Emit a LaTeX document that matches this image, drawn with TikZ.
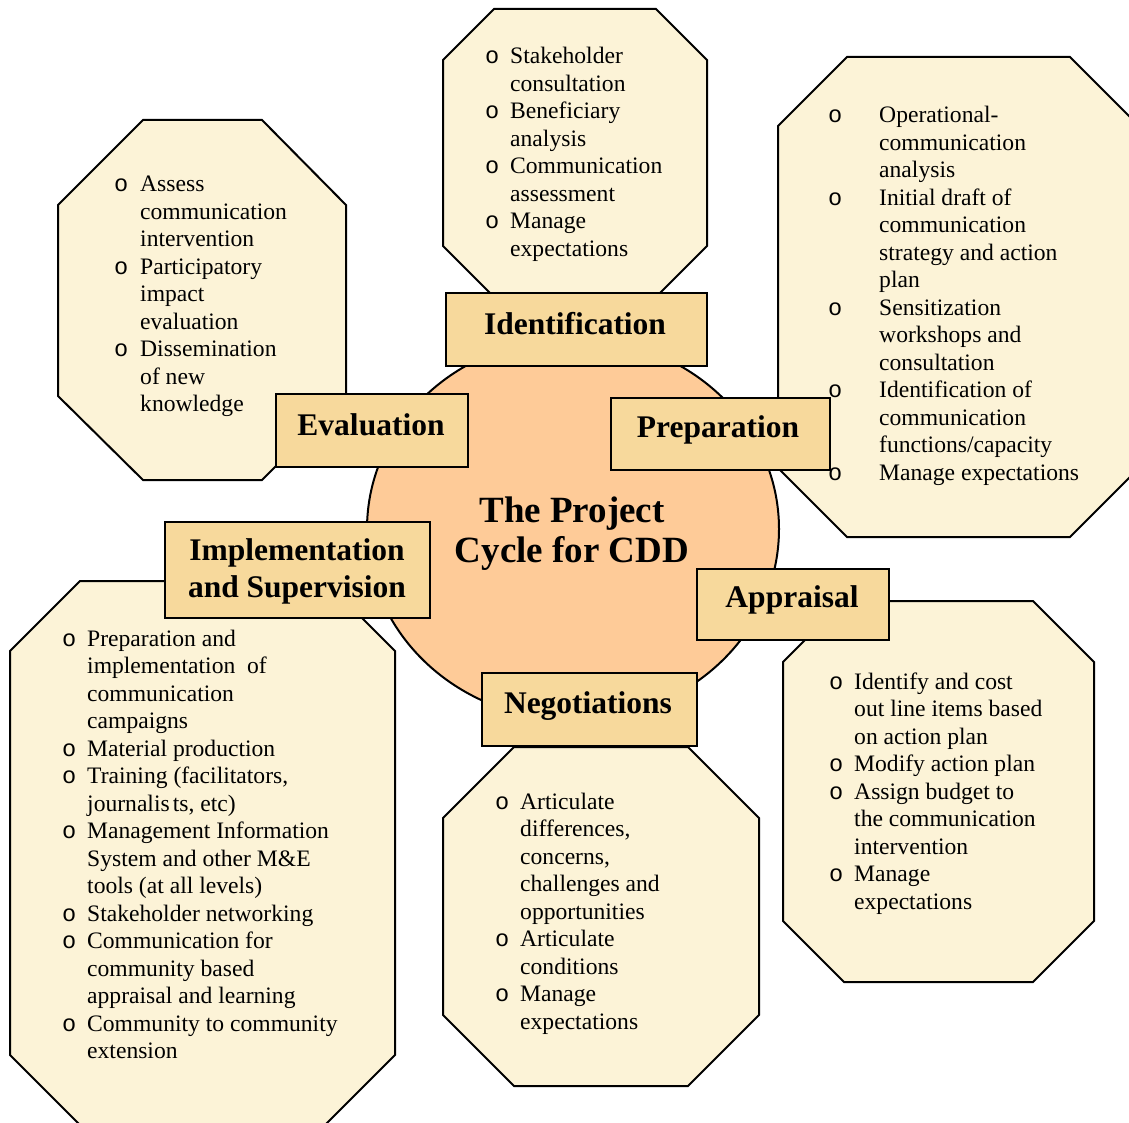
\documentclass[tikz,border=0pt]{standalone}
\usepackage{fontspec}
\setmainfont{Liberation Serif}
\newfontfamily\bulfont{Liberation Mono}
\usepackage{array}
\usetikzlibrary{shapes.geometric}
\definecolor{octfill}{RGB}{252,243,215}
\definecolor{boxfill}{RGB}{247,217,156}
\definecolor{cyclefill}{RGB}{254,203,152}
\newcommand\octlist[2]{\begin{tabular}[t]{@{}>{\bulfont}p{#1}@{}l@{}}#2\end{tabular}}
\begin{document}
\begin{tikzpicture}[x=1pt,y=-1pt,
  oct/.style={draw=black, line width=2pt, fill=octfill, line join=miter},
  stagebox/.style={draw=black, line width=2pt, fill=boxfill, inner sep=0pt, anchor=north west},
  stagelab/.style={inner sep=0pt, anchor=base, font=\fontsize{31.5}{37}\selectfont\bfseries},
  bodytxt/.style={inner sep=0pt, anchor=base west, font=\fontsize{23.6}{27.5}\selectfont}]
\useasboundingbox (0,0) rectangle (1129,1123);
\clip (0,0) rectangle (1129,1123);
% octagons
\draw[oct] (143,120) -- (262,120) -- (346,205) -- (346,396) -- (262,480) -- (143,480) -- (58,396) -- (58,205) -- cycle;
\draw[oct] (494,9) -- (656,9) -- (707,60) -- (707,246) -- (656,297) -- (494,297) -- (443,246) -- (443,60) -- cycle;
\draw[oct] (847,57) -- (1070,57) -- (1139,126) -- (1139,468) -- (1070,537) -- (847,537) -- (778,468) -- (778,126) -- cycle;
\draw[oct] (80,581) -- (325,581) -- (395,651) -- (395,1055) -- (325,1125) -- (80,1125) -- (10,1055) -- (10,651) -- cycle;
\draw[oct] (514,747) -- (688,747) -- (759,818) -- (759,1015) -- (688,1086) -- (514,1086) -- (443,1015) -- (443,818) -- cycle;
\draw[oct] (844,601) -- (1033,601) -- (1094,662) -- (1094,921) -- (1033,982) -- (844,982) -- (783,921) -- (783,662) -- cycle;
% central ellipse
\node[ellipse, draw=black, line width=2pt, fill=cyclefill, inner sep=0pt, minimum width=412pt, minimum height=382pt] (cyc) at (573,529) {};
\node[inner sep=0pt, anchor=base, font=\fontsize{37}{40}\selectfont\bfseries] (title) at (572,522)
  {\begin{tabular}[t]{@{}c@{}}The Project\\Cycle for CDD\end{tabular}};
% stage boxes
\node[stagebox, minimum width=261pt, minimum height=73pt] (idbox) at (445,292) {};
\node[stagebox, minimum width=192pt, minimum height=73pt] (evbox) at (275,393) {};
\node[stagebox, minimum width=219pt, minimum height=72pt] (prbox) at (610,397) {};
\node[stagebox, minimum width=265pt, minimum height=96pt] (imbox) at (164,521) {};
\node[stagebox, minimum width=192pt, minimum height=71pt] (apbox) at (696,568) {};
\node[stagebox, minimum width=215pt, minimum height=73pt] (nebox) at (481,672) {};
\node[stagelab] (idlab) at (575,334) {Identification};
\node[stagelab] (evlab) at (371,435) {Evaluation};
\node[stagelab] (prlab) at (718,437) {Preparation};
\node[stagelab] (imlab) at (297,560) {\begin{tabular}[t]{@{}c@{}}Implementation\\and Supervision\end{tabular}};
\node[stagelab] (aplab) at (792,607) {Appraisal};
\node[stagelab] (nelab) at (588,713) {Negotiations};
% lists
\node[bodytxt] (idtxt) at (485,64) {\octlist{25pt}{o & Stakeholder\\ & consultation\\ o & Beneficiary\\ & analysis\\ o & Communication\\ & assessment\\ o & Manage\\ & expectations}};
\node[bodytxt] (evtxt) at (114,192) {\octlist{26pt}{o & Assess\\ & communication\\ & intervention\\ o & Participatory\\ & impact\\ & evaluation\\ o & Dissemination\\ & of new\\ & knowledge}};
\node[bodytxt] (prtxt) at (828,123) {\octlist{51pt}{o & Operational-\\ & communication\\ & analysis\\ o & Initial draft of\\ & communication\\ & strategy and action\\ & plan\\ o & Sensitization\\ & workshops and\\ & consultation\\ o & Identification of\\ & communication\\ & functions/capacity\\ o & Manage expectations}};
\node[bodytxt] (imtxt) at (62,646) {\octlist{25pt}{o & Preparation and\\ & implementation~~of\\ & communication\\ & campaigns\\ o & Material production\\ o & Training (facilitators,\\ & journalis\hspace{3pt}ts, etc)\\ o & Management Information\\ & System and other M\&E\\ & tools (at all levels)\\ o & Stakeholder networking\\ o & Communication for\\ & community based\\ & appraisal and learning\\ o & Community to community\\ & extension}};
\node[bodytxt] (netxt) at (495,809) {\octlist{25pt}{o & Articulate\\ & differences,\\ & concerns,\\ & challenges and\\ & opportunities\\ o & Articulate\\ & conditions\\ o & Manage\\ & expectations}};
\node[bodytxt] (aptxt) at (829,689) {\octlist{25pt}{o & Identify and cost\\ & out line items based\\ & on action plan\\ o & Modify action plan\\ o & Assign budget to\\ & the communication\\ & intervention\\ o & Manage\\ & expectations}};
\end{tikzpicture}
\end{document}
